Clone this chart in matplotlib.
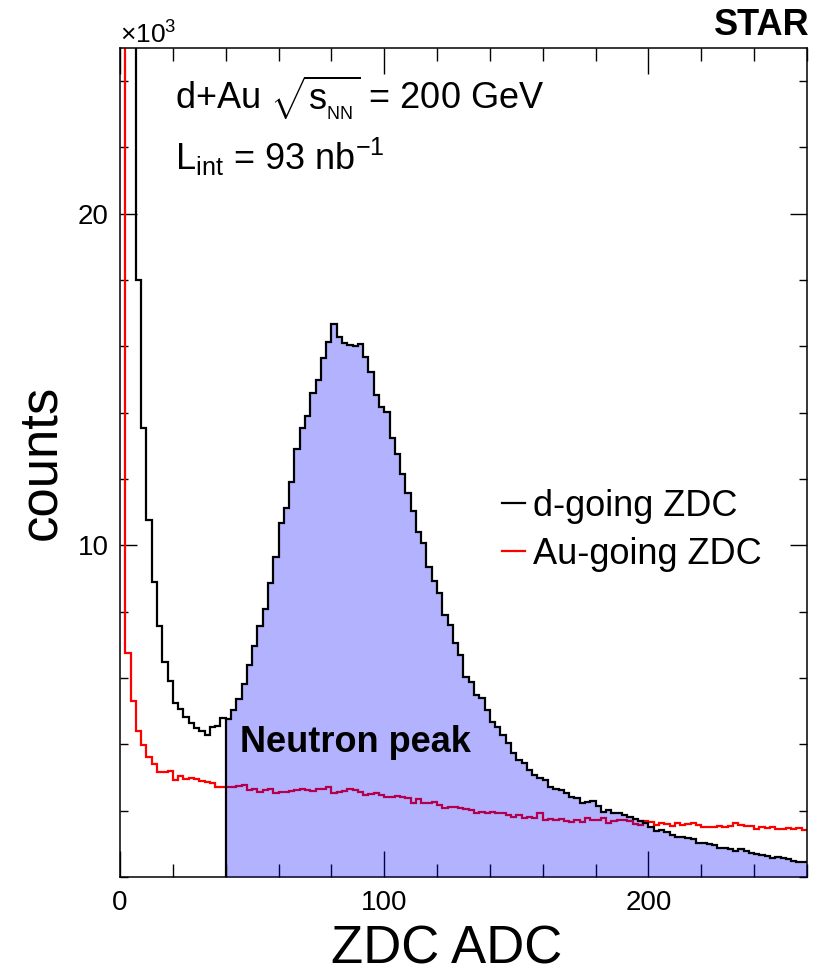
import numpy as np
import matplotlib
matplotlib.use('Agg')
import matplotlib.pyplot as plt
from matplotlib.lines import Line2D
from matplotlib.ticker import MultipleLocator

plt.rcParams['font.family'] = 'Liberation Sans'
plt.rcParams['mathtext.fontset'] = 'custom'
plt.rcParams['mathtext.rm'] = 'Liberation Sans'
plt.rcParams['mathtext.it'] = 'Liberation Sans:italic'

# ZDC ADC bins (width 2), counts in units of 10^3
edges = np.arange(0, 262, 2)

d_going = [60, 45, 32, 18.0, 13.54, 10.77, 8.88, 7.57, 6.49, 5.92,
           5.24, 5.06, 4.82, 4.63, 4.50, 4.40, 4.28, 4.53, 4.55, 4.79,
           4.75, 5.04, 5.36, 5.82, 6.39, 6.97, 7.57, 8.07, 8.86, 9.66,
           10.67, 11.12, 11.90, 12.90, 13.53, 13.90, 14.59, 14.97, 15.64, 16.14,
           16.68, 16.29, 16.09, 16.04, 16.01, 16.06, 15.67, 15.21, 14.54, 14.18,
           14.03, 13.23, 12.75, 12.14, 11.57, 11.02, 10.41, 10.06, 9.36, 8.91,
           8.56, 7.90, 7.60, 7.05, 6.69, 6.04, 5.89, 5.49, 5.39, 5.04,
           4.68, 4.53, 4.28, 4.03, 3.73, 3.53, 3.43, 3.23, 3.08, 2.98,
           2.93, 2.71, 2.64, 2.62, 2.52, 2.42, 2.37, 2.24, 2.27, 2.29,
           2.14, 1.95, 2.02, 1.94, 1.92, 1.87, 1.80, 1.74, 1.68, 1.64,
           1.50, 1.40, 1.42, 1.37, 1.27, 1.22, 1.22, 1.19, 1.14, 1.04,
           1.02, 0.99, 0.97, 0.89, 0.89, 0.86, 0.79, 0.85, 0.78, 0.71,
           0.68, 0.66, 0.63, 0.56, 0.59, 0.58, 0.53, 0.49, 0.46, 0.46]

au_going = [60, 6.76, 5.32, 4.41, 3.98, 3.63, 3.41, 3.18, 3.18, 3.20,
            2.93, 3.05, 2.95, 3.00, 2.95, 2.90, 2.85, 2.83, 2.72, 2.72,
            2.72, 2.72, 2.74, 2.77, 2.62, 2.64, 2.57, 2.62, 2.64, 2.54,
            2.57, 2.57, 2.60, 2.62, 2.64, 2.62, 2.60, 2.64, 2.64, 2.72,
            2.52, 2.57, 2.60, 2.64, 2.62, 2.57, 2.47, 2.50, 2.52, 2.47,
            2.40, 2.42, 2.44, 2.42, 2.37, 2.24, 2.34, 2.24, 2.22, 2.27,
            2.17, 2.07, 2.10, 2.10, 2.07, 2.04, 2.02, 1.94, 1.97, 1.92,
            1.97, 1.92, 1.94, 1.87, 1.82, 1.87, 1.77, 1.82, 1.77, 1.92,
            1.72, 1.74, 1.72, 1.74, 1.70, 1.67, 1.72, 1.67, 1.77, 1.72,
            1.72, 1.77, 1.64, 1.70, 1.72, 1.72, 1.70, 1.60, 1.57, 1.70,
            1.67, 1.57, 1.62, 1.60, 1.54, 1.62, 1.57, 1.60, 1.62, 1.57,
            1.50, 1.50, 1.52, 1.54, 1.50, 1.54, 1.64, 1.57, 1.54, 1.54,
            1.44, 1.50, 1.47, 1.50, 1.44, 1.44, 1.47, 1.44, 1.47, 1.42]

peak_start = 20  # bin index where the neutron peak shading begins (ADC 40)

d_going = np.array(d_going)
au_going = np.array(au_going)

fig = plt.figure(figsize=(8.14, 9.76), dpi=100)
ax = fig.add_axes([0.1474, 0.1014, 0.844, 0.8497])

ax.stairs(au_going, edges, baseline=None, color='red', lw=1.6, zorder=2)
ax.stairs(d_going[peak_start:], edges[peak_start:], fill=True,
          color='blue', alpha=0.3, lw=0, zorder=3)
ax.stairs(d_going, edges, baseline=None, color='black', lw=1.6, zorder=4)
ax.vlines(edges[peak_start], 0, d_going[peak_start], color='black', lw=1.6, zorder=4)

ax.set_xlim(0, 260)
ax.set_ylim(0, 25)
ax.xaxis.set_major_locator(MultipleLocator(100))
ax.xaxis.set_minor_locator(MultipleLocator(20))
ax.set_yticks([10, 20])
ax.yaxis.set_minor_locator(MultipleLocator(2))
ax.tick_params(which='both', direction='in', top=True, right=True,
               labelsize=20, width=1)
ax.tick_params(axis='x', which='major', length=19, pad=9)
ax.tick_params(axis='x', which='minor', length=9.5)
ax.tick_params(axis='y', which='major', length=12, pad=8)
ax.tick_params(axis='y', which='minor', length=6)
for s in ax.spines.values():
    s.set_linewidth(1.1)

ax.set_xlabel('ZDC ADC', fontsize=38)
ax.xaxis.set_label_coords(0.476, -0.057)
ax.set_ylabel('counts', fontsize=38)
ax.yaxis.set_label_coords(-0.078, 0.5)

ax.text(0.0, 1.005, r'$\mathregular{\times10^{3}}$', transform=ax.transAxes,
        fontsize=19, ha='left', va='baseline')
ax.text(0.08, 0.925, r'd+Au $\mathregular{\sqrt{s_{_{NN}}}}$ = 200 GeV',
        transform=ax.transAxes, fontsize=26, ha='left', va='baseline')
ax.text(0.08, 0.853, r'L$_{\mathregular{int}}$ = 93 nb$^{\mathregular{-1}}$',
        transform=ax.transAxes, fontsize=26, ha='left', va='baseline')
ax.text(0.175, 0.151, 'Neutron peak', transform=ax.transAxes,
        fontsize=26, fontweight='bold', ha='left', va='baseline', zorder=5)
fig.text(0.995, 0.964, 'STAR', fontsize=26, fontweight='bold',
         ha='right', va='baseline')

handles = [Line2D([], [], color='black', lw=1.6),
           Line2D([], [], color='red', lw=1.6)]
ax.legend(handles, ['d-going ZDC', 'Au-going ZDC'], loc='upper left',
          bbox_to_anchor=(0.556, 0.468), frameon=False, fontsize=26,
          handlelength=0.65, handletextpad=0.2, borderpad=0,
          borderaxespad=0, labelspacing=0.35)

fig.savefig('out.png', dpi=100)
